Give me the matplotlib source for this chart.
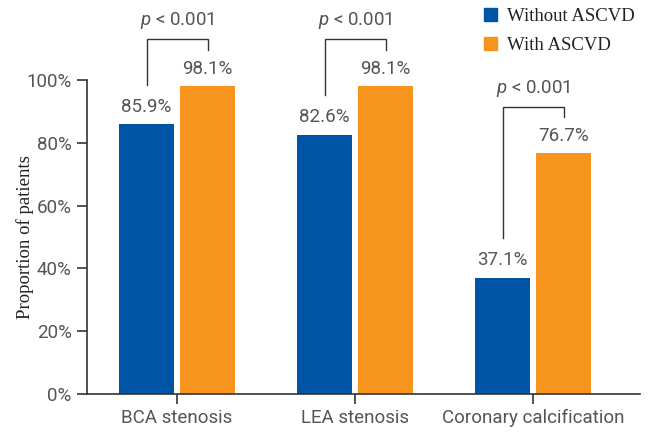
import numpy as np
import matplotlib
matplotlib.use('Agg')
import matplotlib.pyplot as plt
from matplotlib.patches import Patch

plt.rcParams['font.family'] = ['Roboto', 'DejaVu Sans']
plt.rcParams['mathtext.fontset'] = 'custom'
plt.rcParams['mathtext.it'] = 'Roboto:italic'
plt.rcParams['mathtext.rm'] = 'Roboto'

categories = ['BCA stenosis', 'LEA stenosis', 'Coronary calcification']
without_ascvd = [85.9, 82.6, 37.1]
with_ascvd = [98.1, 98.1, 76.7]
p_labels = ['< 0.001', '< 0.001', '< 0.001']
yticks = [0, 20, 40, 60, 80, 100]

blue = '#0054A6'
orange = '#F7941E'
axis_c = '#333333'
text_c = '#555555'

fig = plt.figure(figsize=(6.49, 4.32), dpi=100)
ax = fig.add_axes([87 / 649, 1 - 394 / 432, (640 - 87) / 649, (394 - 80) / 432])

x = np.arange(len(categories))
off = 0.171
w = 0.309
ax.bar(x - off, without_ascvd, w, color=blue, label='Without ASCVD')
ax.bar(x + off, with_ascvd, w, color=orange, label='With ASCVD')

fs = 13.5
for xi, b, o, p in zip(x, without_ascvd, with_ascvd, p_labels):
    ax.text(xi - off, b + 2.6, f'{b:.1f}%', ha='center', va='bottom', fontsize=fs,
            color=text_c, clip_on=False)
    ax.text(xi + off, o + 2.6, f'{o:.1f}%', ha='center', va='bottom', fontsize=fs,
            color=text_c, clip_on=False)
    top = max(b, o) + 14.8
    ax.plot([xi - off, xi - off, xi + off, xi + off], [b + 12.5, top, top, o + 11.5],
            color=axis_c, lw=1.0, clip_on=False, solid_joinstyle='miter')
    ax.text(xi, top + 2.6, r'$p$ ' + p, ha='center', va='bottom', fontsize=fs,
            color=text_c, clip_on=False)

ax.set_xlim(-0.506, 2.6)
ax.set_ylim(0, 100)
ax.set_yticks(yticks)
ax.set_yticklabels([f'{t}%' for t in yticks])
ax.set_xticks(x)
ax.set_xticklabels(categories)
for s in ['top', 'right']:
    ax.spines[s].set_visible(False)
for s in ['left', 'bottom']:
    ax.spines[s].set_color(axis_c)
    ax.spines[s].set_linewidth(1.2)
ax.tick_params(axis='both', colors=axis_c, labelcolor=text_c, labelsize=fs,
               length=7, width=1.2, pad=4)

ax.set_ylabel('Proportion of patients', family='Liberation Serif', fontsize=13.5,
              color='#222222')
ax.yaxis.set_label_coords(-0.095, 0.5)

handles = [Patch(color=blue), Patch(color=orange)]
ax.legend(handles, ['Without ASCVD', 'With ASCVD'], loc='upper left',
          bbox_to_anchor=(484 / 649, 1 - 8 / 432), bbox_transform=fig.transFigure,
          frameon=False, prop={'family': 'Liberation Serif', 'size': 13.5},
          handlelength=0.68, handleheight=0.68, handletextpad=0.55,
          labelspacing=0.65, borderpad=0, borderaxespad=0, labelcolor='#222222')

fig.savefig('out.png', dpi=100)
